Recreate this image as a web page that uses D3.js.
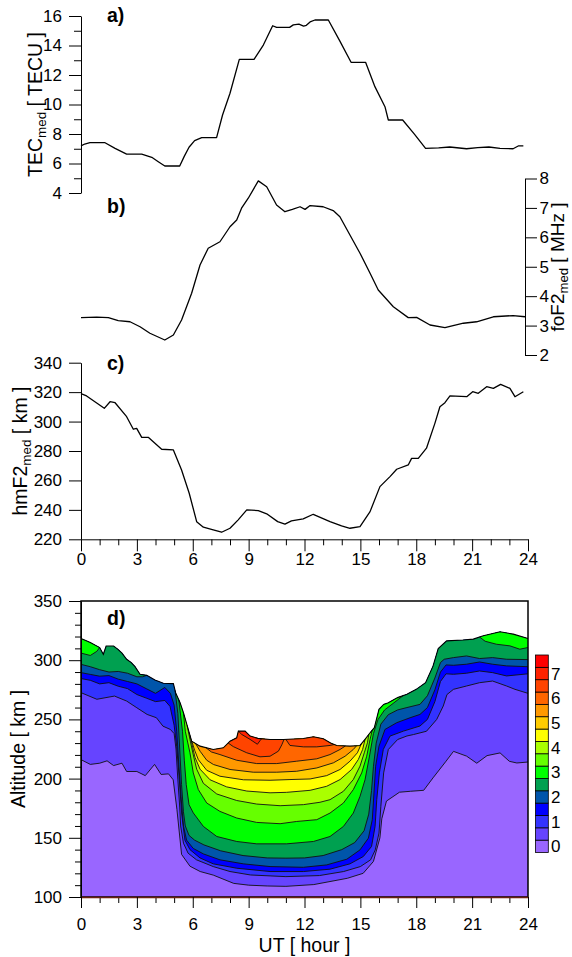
<!DOCTYPE html>
<html>
<head>
<meta charset="utf-8">
<script src="https://cdn.jsdelivr.net/npm/d3@7"></script>
<style>
  body { margin: 0; background: #fff; }
  svg { display: block; }
</style>
</head>
<body>
<svg id="chart" width="572" height="957"></svg>
<script>
// a) median TEC
const tecHours = [0, 0.2, 0.48, 1.29, 1.83, 2.45, 3.26, 3.8, 4.15, 4.5, 5.3, 5.55, 5.8, 6.1, 6.48, 7.28, 7.6, 8.0, 8.5, 9.29, 9.79, 10.29, 10.5, 11.2, 11.4, 11.7, 11.95, 12.1, 12.3, 12.56, 13.28, 13.9, 14.5, 15.28, 15.78, 16.32, 16.5, 17.27, 17.9, 18.5, 19.2, 19.8, 20.7, 21.3, 21.9, 22.5, 23.2, 23.5, 23.75];
const tecValues = [7.2, 7.32, 7.41, 7.41, 7.03, 6.64, 6.64, 6.42, 6.12, 5.83, 5.83, 6.5, 7.1, 7.55, 7.75, 7.75, 9.29, 10.76, 13.06, 13.06, 14.03, 15.34, 15.23, 15.23, 15.4, 15.45, 15.32, 15.37, 15.6, 15.73, 15.73, 14.3, 12.86, 12.86, 11.21, 9.85, 8.95, 8.95, 7.99, 7.03, 7.06, 7.12, 7.0, 7.08, 7.12, 7.03, 7.0, 7.2, 7.2];

// b) median foF2
const foHours = [0, 0.84, 1.47, 2.0, 2.63, 3.17, 3.7, 4.5, 4.96, 5.4, 5.94, 6.39, 6.83, 7.46, 8.0, 8.36, 8.62, 8.98, 9.52, 9.97, 10.5, 10.95, 11.35, 11.76, 12.03, 12.3, 13.0, 13.54, 13.9, 14.44, 14.98, 15.52, 15.96, 16.77, 17.57, 18.02, 18.74, 19.54, 20.53, 21.24, 22.14, 23.2, 23.84];
const foValues = [3.27, 3.29, 3.27, 3.17, 3.13, 2.96, 2.74, 2.51, 2.68, 3.19, 4.1, 5.06, 5.63, 5.85, 6.36, 6.59, 6.99, 7.33, 7.92, 7.72, 7.1, 6.87, 6.95, 7.04, 6.95, 7.08, 7.04, 6.91, 6.7, 6.08, 5.46, 4.78, 4.21, 3.64, 3.27, 3.28, 3.02, 2.93, 3.08, 3.13, 3.3, 3.34, 3.3];

// c) median hmF2
const hmHours = [0, 0.3, 1.25, 1.56, 1.83, 2.45, 2.81, 2.99, 3.26, 3.61, 3.97, 4.33, 4.96, 5.4, 5.81, 6.21, 6.57, 7.1, 7.55, 8.0, 8.44, 8.9, 9.52, 9.97, 10.56, 10.95, 11.3, 11.93, 12.47, 13.37, 13.99, 14.44, 14.98, 15.52, 16.05, 16.59, 16.95, 17.57, 17.75, 18.11, 18.55, 19.0, 19.27, 19.54, 19.81, 20.71, 21.03, 21.33, 21.78, 22.14, 22.53, 23.03, 23.3, 23.75];
const hmValues = [319, 317.4, 309, 313.5, 312.8, 303.3, 294.8, 295.4, 289.3, 289.3, 285.2, 281.2, 280.7, 267.1, 251.3, 232, 228.2, 226.4, 224.8, 227.5, 233.2, 240, 239.5, 237.3, 232, 230.3, 232.5, 233.9, 237, 232, 229.1, 227.5, 228.6, 238.8, 255.8, 262.6, 267.6, 270.5, 275, 275, 281.9, 298.8, 310.1, 312.8, 317.4, 316.9, 320.3, 319.2, 323.7, 322.6, 325.3, 322.6, 316.9, 320.3];

// d) upper edge of the density map (km)
const dTopHours = [0, 0.5, 1.0, 1.2, 1.35, 1.75, 2.0, 2.2, 2.45, 2.7, 2.9, 3.17, 3.53, 3.97, 4.42, 4.96, 5.08, 5.32, 5.5, 5.76, 5.94, 6.39, 7.1, 7.64, 8.0, 8.36, 8.45, 8.81, 9.08, 9.5, 10.15, 10.87, 11.94, 12.48, 13.01, 13.4, 13.73, 14.44, 14.98, 15.25, 15.52, 15.75, 16.0, 16.25, 16.5, 17.0, 17.5, 18.0, 18.5, 18.9, 19.18, 19.63, 20.5, 21.06, 21.6, 22.5, 23.21, 24];
const dTopAlt = [318.3, 315, 310.7, 305, 312, 312, 309, 306, 300.8, 298, 294.6, 288.1, 287.2, 283.3, 280.5, 280.2, 272.6, 264.1, 255.6, 241.5, 231.6, 227.4, 224.6, 226, 231.6, 234.5, 240.1, 240.1, 235.9, 234, 233, 233, 233.9, 235.3, 233.6, 230, 228, 227.4, 228, 233.1, 238.7, 243, 258.5, 262.7, 264.1, 268.4, 271.2, 275.4, 281, 295, 309.8, 316.3, 317, 317.8, 320.6, 324, 322, 318.3];

// d) contour lines [hour, km]; null = the line meets the upper edge
const c05 = [[0,216],[0.5,212],[1,213],[1.4,215],[1.75,211],[2.2,213],[2.45,206],[3,206],[3.45,202.5],[3.95,212],[4.3,203.5],[4.7,204],[4.95,199],[5.15,174],[5.4,136],[5.85,126],[6.4,121.5],[7.1,118.5],[8.2,111.5],[9,110],[10,109.3],[11,109],[12.5,110.5],[14.3,115.8],[15.15,120],[15.7,130],[16.05,150],[16.15,166],[16.4,181],[17.1,188.5],[17.7,189.3],[18.4,190.1],[18.9,200.6],[19.6,214.7],[20,223],[20.7,219],[21.25,213],[21.8,219.4],[22.5,221.7],[23,214.6],[23.4,213.2],[24,214]];
const c1 = [[0,272.6],[0.85,267],[1.8,269.7],[2.45,265.5],[3,259.8],[3.55,254.2],[4.05,251.4],[4.4,244.3],[4.8,241.5],[5.0,238],[5.1,225],[5.2,199],[5.3,176],[5.35,160],[5.5,145.5],[5.75,137],[6.2,131.4],[7.1,125.7],[8,121.5],[9.1,118.6],[11,117.2],[12.8,118.1],[14.1,121.5],[15,125.7],[15.55,131.4],[15.8,139.8],[16.0,154],[16.1,176.6],[16.25,204.8],[16.5,224.6],[17,233],[17.5,236],[17.85,237.2],[18.55,240],[19.1,250],[19.45,261.3],[19.65,271],[20,275.4],[20.7,278.2],[21.4,281],[22.1,282.4],[22.85,278.2],[23.3,275.4],[24,272]];
const c15 = [[0,284.5],[0.5,283],[1,280],[1.5,281],[2,278],[2.5,276],[3,271],[3.5,268],[4,265],[4.5,266],[4.78,261],[5.0,245],[5.14,227],[5.28,199],[5.4,171],[5.58,148],[5.85,140],[6.39,133],[7.1,128],[8.36,124.3],[10.15,121.5],[11.94,121.5],[13.37,123.5],[14.44,128],[15.16,134.2],[15.6,142.7],[15.79,159.6],[15.88,182.2],[16.02,204.8],[16.23,224.6],[16.59,235.9],[17.31,240.1],[18.2,244.4],[18.6,250],[19.0,265],[19.3,282],[19.6,288.5],[20,288.1],[20.7,289],[21.4,290.9],[22.1,289.5],[22.85,286.7],[24,288.5]];
const c2 = [[0,289.5],[0.5,288],[1,286.5],[1.5,287],[2,284],[2.5,282],[3,280],[3.5,276],[4,272],[4.5,277],[4.8,272],[5.0,262],[5.14,240],[5.26,210],[5.37,185],[5.5,160],[5.67,148],[6.03,141],[6.57,136.4],[7.46,131.4],[8.72,128],[10.15,125.7],[11.94,125.1],[13.19,127.1],[14.27,131.9],[14.98,139.8],[15.43,149.7],[15.64,165.3],[15.73,187.9],[15.82,210.5],[16.0,227.4],[16.32,241.5],[16.95,247.2],[17.67,251.4],[18.2,254.2],[18.6,260],[19.0,275],[19.3,290],[19.6,296],[20,295.7],[20.7,296.6],[21.4,298.5],[22.1,296.6],[22.85,295.2],[24,294.5]];
const c25a = [[0,296.5],[0.5,294.5],[1,292],[1.5,290],[2,290.5],[2.5,289],[3,286],[3.3,286],[3.53,null]];
const c25b = [[5.05,null],[5.2,255],[5.3,225],[5.4,195],[5.5,172],[5.6,160],[5.8,152],[6.1,148],[6.6,144],[7.5,139],[8.7,135],[10,133],[11,132.8],[12,133],[13,135],[14,140],[14.7,146],[15.2,156],[15.45,170],[15.6,190],[15.7,210],[15.85,230],[16.1,246],[16.5,254],[17,258],[17.5,260],[18.2,262.7],[18.6,270],[19,285],[19.3,298],[19.5,300.8],[20,302.2],[20.7,303.6],[21.4,301.4],[22.1,302.2],[22.85,300.8],[24,300.5]];
const c3a = [[0,306],[0.5,304],[0.85,307.5],[1.0,null]];
const c3b = [[5.25,null],[5.45,240],[5.55,215],[5.65,195],[5.8,178],[6.03,171],[6.57,159.6],[7.29,151.1],[8.36,146.9],[9.43,144.9],[11.04,144.9],[12.48,146.9],[13.37,151.1],[14.09,159.6],[14.62,170.9],[14.98,185],[15.25,199],[15.5,220],[15.7,238],[15.95,250],[16.3,258],[16.8,264],[17.3,null]];
const c3c = [[21.4,null],[21.7,316],[22.3,313.5],[23.03,312.1],[23.56,309.3],[24,310.7]];
const c35 = [[5.5,null],[5.6,240],[5.85,221.8],[6.03,204.8],[6.3,190.7],[6.75,179.4],[7.46,172.3],[8.36,166.7],[9.43,163],[10.69,161.9],[11.58,163.8],[12.66,165.3],[13.37,170.9],[14.09,179.4],[14.62,190.7],[15.07,204.8],[15.34,218.9],[15.52,233.1],[15.64,null]];
const c4 = [[5.7,null],[5.85,233],[6.03,220],[6.21,208],[6.57,196],[7.29,187],[8.36,181.5],[9.43,178.5],[10.69,177.1],[11.94,178],[12.83,180],[13.37,182.2],[14.09,189.3],[14.62,199.2],[14.98,210.5],[15.21,221.8],[15.38,230.2],[15.45,null]];
const c45 = [[5.85,null],[6.0,226],[6.12,218],[6.39,208],[6.93,199],[7.82,193],[8.9,189.5],[10.15,188],[11.04,188.4],[12.3,190.1],[13.19,193.5],[13.91,199.2],[14.53,207.7],[14.89,216.1],[15.12,224.6],[15.25,null]];
const c5 = [[5.95,null],[6.1,224],[6.3,216],[6.75,207],[7.46,202],[8.72,199],[10.15,198.6],[11.22,199.2],[12.3,199.7],[13.19,202.5],[13.91,207.7],[14.44,214.7],[14.84,221.8],[15.05,null]];
const c55 = [[6.15,null],[6.4,223],[6.75,215.5],[7.11,211.9],[8.0,207.7],[9.25,205.4],[10.51,205.4],[11.58,206.2],[12.66,209],[13.55,213.3],[14.18,218.9],[14.62,224.6],[14.8,null]];
const c6 = [[6.7,null],[7.0,222.5],[7.46,220.3],[8.36,215.5],[9.43,212.7],[10.51,212.7],[11.58,214.7],[12.66,216.7],[13.37,220.3],[13.91,224.6],[14.2,null]];
const c65a = [[7.9,null],[8.18,227],[8.9,221.8],[9.61,218.4],[10.15,218.9],[10.6,223.2],[10.78,228.5],[10.9,null]];
const c65b = [[11.0,null],[11.22,228],[11.94,226.8],[12.66,226.8],[13.37,228],[13.6,null]];
const c7 = [[8.45,null],[8.63,237.3],[9.08,233.1],[9.47,229],[9.61,232],[9.7,null]];

const levels = [0, 0.5, 1, 1.5, 2, 2.5, 3, 3.5, 4, 4.5, 5, 5.5, 6, 6.5, 7, 7.5];
const levelColors = ['#9966ff', '#6644ff', '#3333ff', '#0000ff', '#0055aa', '#00a050', '#00ff00', '#66ff00',
  '#aaff00', '#ffff00', '#ffcc00', '#ff9900', '#ff6600', '#ff4400', '#ff2200', '#ff0000'];
const levelLines = [
  [0.5, [c05]], [1, [c1]], [1.5, [c15]], [2, [c2]], [2.5, [c25a, c25b]], [3, [c3a, c3b, c3c]],
  [3.5, [c35]], [4, [c4]], [4.5, [c45]], [5, [c5]], [5.5, [c55]], [6, [c6]], [6.5, [c65a, c65b]], [7, [c7]]
];

const tecTicks = d3.range(4, 17, 2);
const tecMinor = d3.range(5, 16, 2);
const foTicks = d3.range(2, 9, 1);
const hmTicks = d3.range(220, 341, 20);
const altTicks = d3.range(100, 351, 50);
const altMinor = d3.range(110, 350, 10).filter(v => v % 50 !== 0);
const hourTicks = d3.range(0, 25, 3);
const hourMinor = d3.range(1, 24, 1).filter(v => v % 3 !== 0);
const barLabels = d3.range(0, 8, 1);

const FONT = '"Liberation Sans", Arial, Helvetica, sans-serif';
const svg = d3.select('#chart').attr('font-family', FONT);

const x = d3.scaleLinear().domain([0, 24]).range([81, 528]);
const yTec = d3.scaleLinear().domain([4, 16]).range([193, 16]);
const yFo = d3.scaleLinear().domain([2, 8]).range([355, 178.5]);
const yHm = d3.scaleLinear().domain([220, 340]).range([539.3, 362.7]);
const yAlt = d3.scaleLinear().domain([100, 350]).range([897, 601]);
const topAt = d3.scaleLinear().domain(dTopHours).range(dTopAlt);

function styleAxis(g, size) {
  g.attr('font-family', FONT).attr('font-size', size);
  g.selectAll('text').attr('fill', '#000');
  g.selectAll('line,path').attr('stroke', '#000').attr('stroke-width', 1);
  return g;
}

function addAxis(axis, tx, ty, size) {
  return styleAxis(svg.append('g').attr('transform', `translate(${tx},${ty})`).call(axis), size);
}

function drawSeries(hours, values, yScale) {
  svg.append('path')
    .datum(d3.zip(hours, values))
    .attr('fill', 'none')
    .attr('stroke', '#000')
    .attr('stroke-width', 1.3)
    .attr('stroke-linejoin', 'round')
    .attr('d', d3.line().x(d => x(d[0])).y(d => yScale(d[1])));
}

function yTitle(parts, tx, ty, size = 19.5) {
  const t = svg.append('text')
    .attr('transform', `translate(${tx},${ty}) rotate(-90)`)
    .attr('text-anchor', 'middle')
    .attr('font-size', size);
  t.append('tspan').text(parts[0]);
  t.append('tspan').attr('font-size', size * 0.69).attr('dy', 4).text(parts[1]);
  t.append('tspan').attr('dy', -4).text(parts[2]);
}

function panelLetter(txt, tx, ty) {
  svg.append('text').attr('x', tx).attr('y', ty)
    .attr('font-size', 19.5).attr('font-weight', 'bold').text(txt);
}

// ---- a) TEC
addAxis(d3.axisLeft(yTec).tickValues(tecMinor).tickSize(7).tickFormat(''), 81, 0, 17).select('.domain').remove();
addAxis(d3.axisLeft(yTec).tickValues(tecTicks).tickSize(12).tickSizeOuter(0).tickPadding(7), 81, 0, 17);
drawSeries(tecHours, tecValues, yTec);
yTitle(['TEC', 'med', ' [ TECU ]'], 41.5, 104.5);
panelLetter('a)', 107, 22);

// ---- b) foF2
addAxis(d3.axisRight(yFo).tickValues(foTicks).tickFormat(d3.format('d')).tickSize(12).tickSizeOuter(0).tickPadding(2.5), 525, 0, 17);
drawSeries(foHours, foValues, yFo);
yTitle(['foF2', 'med', ' [ MHz ]'], 564, 267, 19);
panelLetter('b)', 107, 213);

// ---- c) hmF2
addAxis(d3.axisLeft(yHm).tickValues(hmTicks).tickSize(12).tickSizeOuter(0).tickPadding(7), 81, 0, 17);
addAxis(d3.axisBottom(x).tickValues(hourMinor).tickSize(6).tickFormat(''), 0, 539.3, 17).select('.domain').remove();
addAxis(d3.axisBottom(x).tickValues(hourTicks).tickSize(12).tickSizeOuter(0).tickPadding(1.5), 0, 539.3, 17);
drawSeries(hmHours, hmValues, yHm);
yTitle(['hmF2', 'med', ' [ km ]'], 27, 451);
panelLetter('c)', 107, 370);

// ---- d) density map
const gMap = svg.append('g');
const topPts = d3.zip(dTopHours, dTopAlt);
gMap.append('path')
  .datum(topPts)
  .attr('fill', levelColors[0])
  .attr('d', d3.area().x(d => x(d[0])).y0(yAlt(100)).y1(d => yAlt(d[1])));

const polyLine = d3.line().x(d => x(d[0])).y(d => yAlt(d[1]));
const resolved = [];
levelLines.forEach(([lvl, segs]) => {
  segs.forEach(seg => {
    const pts = seg.map(([h, a]) => [h, a == null ? topAt(h) : a]);
    const h0 = pts[0][0], h1 = pts[pts.length - 1][0];
    const upper = topPts.filter(d => d[0] > h0 && d[0] < h1).reverse();
    const poly = pts.concat([[h1, topAt(h1)]], upper, [[h0, topAt(h0)]]);
    gMap.append('path')
      .attr('fill', levelColors[levels.indexOf(lvl)])
      .attr('d', polyLine(poly) + 'Z');
    resolved.push(pts);
  });
});
resolved.forEach(pts => {
  gMap.append('path')
    .attr('fill', 'none').attr('stroke', '#111').attr('stroke-width', 0.9)
    .attr('d', polyLine(pts));
});
gMap.append('path')
  .datum(topPts)
  .attr('fill', 'none').attr('stroke', '#000').attr('stroke-width', 1.1)
  .attr('d', polyLine);

// frame + axes
svg.append('rect')
  .attr('x', x(0)).attr('y', yAlt(350))
  .attr('width', x(24) - x(0)).attr('height', yAlt(100) - yAlt(350))
  .attr('fill', 'none').attr('stroke', '#000').attr('stroke-width', 1.5);
addAxis(d3.axisLeft(yAlt).tickValues(altMinor).tickSize(6).tickFormat(''), 81, 0, 17).select('.domain').remove();
addAxis(d3.axisLeft(yAlt).tickValues(altTicks).tickSize(12).tickSizeOuter(0).tickPadding(7), 81, 0, 17);
addAxis(d3.axisBottom(x).tickValues(hourMinor).tickSize(6).tickFormat(''), 0, 897, 17).select('.domain').remove();
addAxis(d3.axisBottom(x).tickValues(hourTicks).tickSize(11).tickSizeOuter(0).tickPadding(10), 0, 897, 17)
  .select('.domain').attr('stroke', '#6b2210').attr('stroke-width', 1.6);
yTitle(['Altitude [ km ]', '', ''], 25, 749);
svg.append('text')
  .attr('x', (x(0) + x(24)) / 2).attr('y', 952)
  .attr('text-anchor', 'middle').attr('font-size', 19.5)
  .text('UT [ hour ]');
panelLetter('d)', 107, 625);

// colour bar
const yBar = d3.scaleLinear().domain([0, levels.length]).range([852.5, 655]);
const gBar = svg.append('g');
gBar.selectAll('rect')
  .data(levels)
  .join('rect')
  .attr('x', 535.5)
  .attr('width', 12.8)
  .attr('y', (d, i) => yBar(i + 1))
  .attr('height', (d, i) => yBar(i) - yBar(i + 1))
  .attr('fill', (d, i) => levelColors[i])
  .attr('stroke', '#000').attr('stroke-width', 0.8);
gBar.selectAll('text')
  .data(barLabels)
  .join('text')
  .attr('x', 551)
  .attr('y', d => yBar(levels.indexOf(d) + 0.5))
  .attr('dy', '0.36em')
  .attr('font-size', 17)
  .text(d => d);
</script>
</body>
</html>
